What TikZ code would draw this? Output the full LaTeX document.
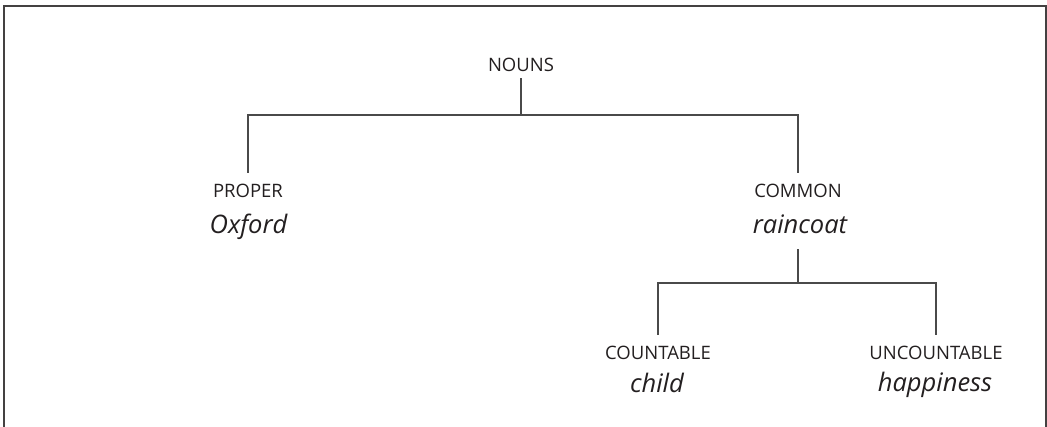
\documentclass[tikz,border=0pt]{standalone}
\usepackage{fontspec}
\setmainfont{Open Sans}
\definecolor{ink}{HTML}{231F20}
\definecolor{linec}{HTML}{4A4A4A}
\tikzset{
  cat/.style={font=\fontsize{18.5}{20}\selectfont, text=ink, inner sep=0pt, outer sep=11pt, anchor=base},
  ex/.style={font=\fontsize{25.5}{28}\selectfont\itshape, text=ink, inner sep=0pt, outer sep=16pt, anchor=base},
  conn/.style={draw=linec, line width=1.5pt},
  frame/.style={draw=ink!85, line width=2pt}
}
\begin{document}
\begin{tikzpicture}[x=1pt,y=-1pt]
\useasboundingbox (0,0) rectangle (1047,426);
\draw[frame] (4,427) -- (4,6) -- (1046,6) -- (1046,427);

\node[cat, outer sep=7pt] (nouns) at (521,71) {NOUNS};
\node[cat] (proper) at (248,197) {PROPER};
\node[ex] (oxford) at (248.5,233) {Oxford};
\node[cat] (common) at (798,197) {COMMON};
\node[ex] (raincoat) at (800,233) {raincoat};
\node[cat] (countable) at (658,359) {COUNTABLE};
\node[ex] (child) at (657,392) {child};
\node[cat] (uncountable) at (936,359) {UNCOUNTABLE};
\node[ex] (happiness) at (935,391) {happiness};

\coordinate (j1) at (521,115);
\coordinate (j2) at (798,283);

\draw[conn] (nouns.south) -- (j1);
\draw[conn] (proper.north) |- (j1) -| (common.north);
\draw[conn] (raincoat.south -| common.north) -- (j2);
\draw[conn] (countable.north) |- (j2) -| (uncountable.north);
\end{tikzpicture}
\end{document}
